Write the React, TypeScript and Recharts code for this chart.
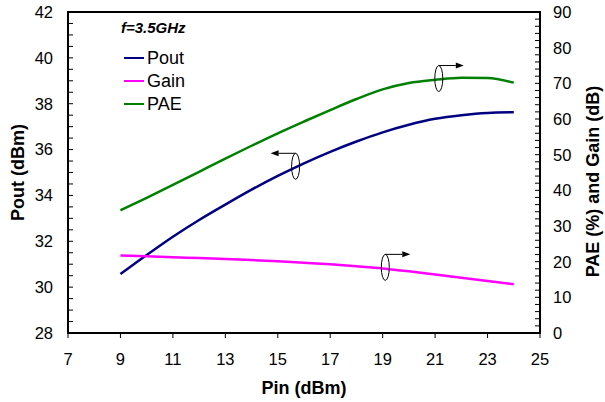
import React from 'react';
import { LineChart, Line, XAxis, YAxis, ReferenceArea, ReferenceDot, Legend } from 'recharts';

// ---- data ----
const pin = [9, 10, 11, 12, 13, 14, 15, 16, 17, 18, 19, 20, 21, 22, 23, 24];
const pout = [30.57, 31.4, 32.2, 32.93, 33.6, 34.25, 34.85, 35.4, 35.9, 36.35, 36.75, 37.08, 37.34, 37.5, 37.6, 37.63];
const gain = [21.7, 21.5, 21.25, 21.0, 20.75, 20.45, 20.1, 19.7, 19.25, 18.7, 18.1, 17.3, 16.4, 15.5, 14.6, 13.7];
const pae = [34.4, 37.9, 41.5, 45.2, 48.9, 52.5, 56.0, 59.3, 62.5, 65.6, 68.3, 70.1, 71.0, 71.6, 71.5, 70.2];

const xTicks = [7, 9, 11, 13, 15, 17, 19, 21, 23, 25];
const leftMajor = [28, 30, 32, 34, 36, 38, 40, 42];
const rightMajor = [0, 10, 20, 30, 40, 50, 60, 70, 80, 90];
const leftTicks: number[] = [];
for (let v = 28; v <= 42; v += 0.5) leftTicks.push(v);
const rightTicks: number[] = [];
for (let v = 0; v <= 90; v += 2) rightTicks.push(v);

const titleText = 'f=3.5GHz';
const xTitle = 'Pin (dBm)';
const leftTitle = 'Pout (dBm)';
const rightTitle = 'PAE (%) and Gain (dB)';

const series = [
  { key: 'pout', name: 'Pout', color: '#000080', axis: 'left' },
  { key: 'gain', name: 'Gain', color: '#FF00FF', axis: 'right' },
  { key: 'pae', name: 'PAE', color: '#008000', axis: 'right' },
];

// annotation markers: [x, y, axis, direction]
const markers: { x: number; y: number; axis: string; dir: number }[] = [
  { x: 15.68, y: 35.27, axis: 'left', dir: -1 },
  { x: 19.1, y: 18.4, axis: 'right', dir: 1 },
  { x: 21.14, y: 71.35, axis: 'right', dir: 1 },
];

const data = pin.map((p, i) => ({ pin: p, pout: pout[i], gain: gain[i], pae: pae[i] }));

const FONT = '"Liberation Sans", Arial, sans-serif';

const XTick = (props: any) => {
  const { x, y, payload } = props;
  return (
    <g>
      <line x1={x} x2={x} y1={y} y2={y + 5} stroke="#000" strokeWidth={1} />
      <text x={x} y={y + 32} textAnchor="middle" fontSize={16.5} fontFamily={FONT} fill="#000">
        {payload.value}
      </text>
    </g>
  );
};

const LeftTick = (props: any) => {
  const { x, y, payload } = props;
  const major = leftMajor.includes(payload.value);
  return (
    <g>
      <line x1={x} x2={x + 5} y1={y} y2={y} stroke="#000" strokeWidth={1} />
      {major && (
        <text x={x - 15} y={y} dy="0.355em" textAnchor="end" fontSize={16.5} fontFamily={FONT} fill="#000">
          {payload.value}
        </text>
      )}
    </g>
  );
};

const RightTick = (props: any) => {
  const { x, y, payload } = props;
  const major = rightMajor.includes(payload.value);
  return (
    <g>
      <line x1={x - 5} x2={x} y1={y} y2={y} stroke="#000" strokeWidth={1} />
      {major && (
        <text x={x + 13} y={y} dy="0.355em" textAnchor="start" fontSize={16.5} fontFamily={FONT} fill="#000">
          {payload.value}
        </text>
      )}
    </g>
  );
};

const LeftLabel = (props: any) => {
  const vb = props.viewBox;
  const cx = vb.x + 24;
  const cy = vb.y + vb.height / 2;
  return (
    <text x={cx} y={cy} transform={`rotate(-90 ${cx} ${cy})`} textAnchor="middle" fontSize={18} fontWeight="bold" fontFamily={FONT} fill="#000">
      {leftTitle}
    </text>
  );
};

const RightLabel = (props: any) => {
  const vb = props.viewBox;
  const cx = vb.x + 59;
  const cy = vb.y + vb.height / 2 + 9;
  return (
    <text x={cx} y={cy} transform={`rotate(-90 ${cx} ${cy})`} textAnchor="middle" fontSize={18} fontWeight="bold" fontFamily={FONT} fill="#000">
      {rightTitle}
    </text>
  );
};

const XLabel = (props: any) => {
  const vb = props.viewBox;
  const cx = vb.x + vb.width / 2;
  return (
    <text x={cx} y={vb.y + 61} textAnchor="middle" fontSize={18} fontWeight="bold" fontFamily={FONT} fill="#000">
      {xTitle}
    </text>
  );
};

const makeMarker = (dir: number) => (p: any) => {
  const { cx, cy } = p;
  const rx = 4;
  const ry = 13;
  const top = cy - ry;
  const len = 25;
  const end = cx + dir * len;
  const headBase = end - dir * 8;
  return (
    <g>
      <ellipse cx={cx} cy={cy} rx={rx} ry={ry} fill="none" stroke="#000" strokeWidth={1} />
      <line x1={cx} y1={top} x2={headBase} y2={top} stroke="#000" strokeWidth={1} />
      <polygon points={`${end},${top} ${headBase},${top - 3} ${headBase},${top + 3}`} fill="#000" />
    </g>
  );
};

const LegendContent = () => (
  <div style={{ fontFamily: FONT, color: '#000' }}>
    <div style={{ fontSize: 15, fontWeight: 'bold', fontStyle: 'italic', height: 28, lineHeight: '20px', marginTop: -4, marginLeft: 1 }}>
      {titleText}
    </div>
    {series.map((s) => (
      <div key={s.key} style={{ display: 'flex', alignItems: 'center', height: 23.3 }}>
        <span style={{ display: 'inline-block', width: 20, height: 0, borderTop: `2.5px solid ${s.color}`, marginLeft: 4, marginRight: 3 }} />
        <span style={{ fontSize: 18, lineHeight: '20px' }}>{s.name}</span>
      </div>
    ))}
  </div>
);

export default function App() {
  return (
    <div style={{ position: 'absolute', left: 0, top: 0, width: 605, height: 402, background: '#fff' }}>
      <LineChart width={605} height={402} data={data} margin={{ top: 12, right: 0, bottom: 0, left: 0 }} style={{ fontFamily: FONT }}>
        <XAxis
          dataKey="pin"
          type="number"
          domain={[7, 25]}
          ticks={xTicks}
          interval={0}
          height={69}
          tickLine={false}
          tickSize={0}
          tickMargin={0}
          tick={<XTick />}
          axisLine={{ stroke: '#000', strokeWidth: 2 }}
          label={<XLabel />}
          allowDataOverflow
        />
        <YAxis
          yAxisId="left"
          orientation="left"
          type="number"
          domain={[28, 42]}
          ticks={leftTicks}
          interval={0}
          width={68}
          tickLine={false}
          tickSize={0}
          tickMargin={0}
          tick={<LeftTick />}
          axisLine={{ stroke: '#000', strokeWidth: 2 }}
          label={<LeftLabel />}
          allowDataOverflow
        />
        <YAxis
          yAxisId="right"
          orientation="right"
          type="number"
          domain={[0, 90]}
          ticks={rightTicks}
          interval={0}
          width={65}
          tickLine={false}
          tickSize={0}
          tickMargin={0}
          tick={<RightTick />}
          axisLine={{ stroke: '#000', strokeWidth: 2 }}
          label={<RightLabel />}
          allowDataOverflow
        />
        <ReferenceArea yAxisId="left" x1={7} x2={25} y1={28} y2={42} fill="none" fillOpacity={0} stroke="#000" strokeWidth={2} ifOverflow="visible" />
        {series.map((s) => (
          <Line
            key={s.key}
            yAxisId={s.axis}
            type="monotone"
            dataKey={s.key}
            name={s.name}
            stroke={s.color}
            strokeWidth={2.5}
            dot={false}
            activeDot={false}
            isAnimationActive={false}
          />
        ))}
        {markers.map((m, i) => (
          <ReferenceDot key={i} yAxisId={m.axis} x={m.x} y={m.y} r={4} ifOverflow="visible" shape={makeMarker(m.dir)} />
        ))}
        <Legend
          layout="vertical"
          align="center"
          verticalAlign="middle"
          content={<LegendContent />}
          wrapperStyle={{ left: 120, top: 22, width: 100, height: 100 }}
        />
      </LineChart>
    </div>
  );
}
